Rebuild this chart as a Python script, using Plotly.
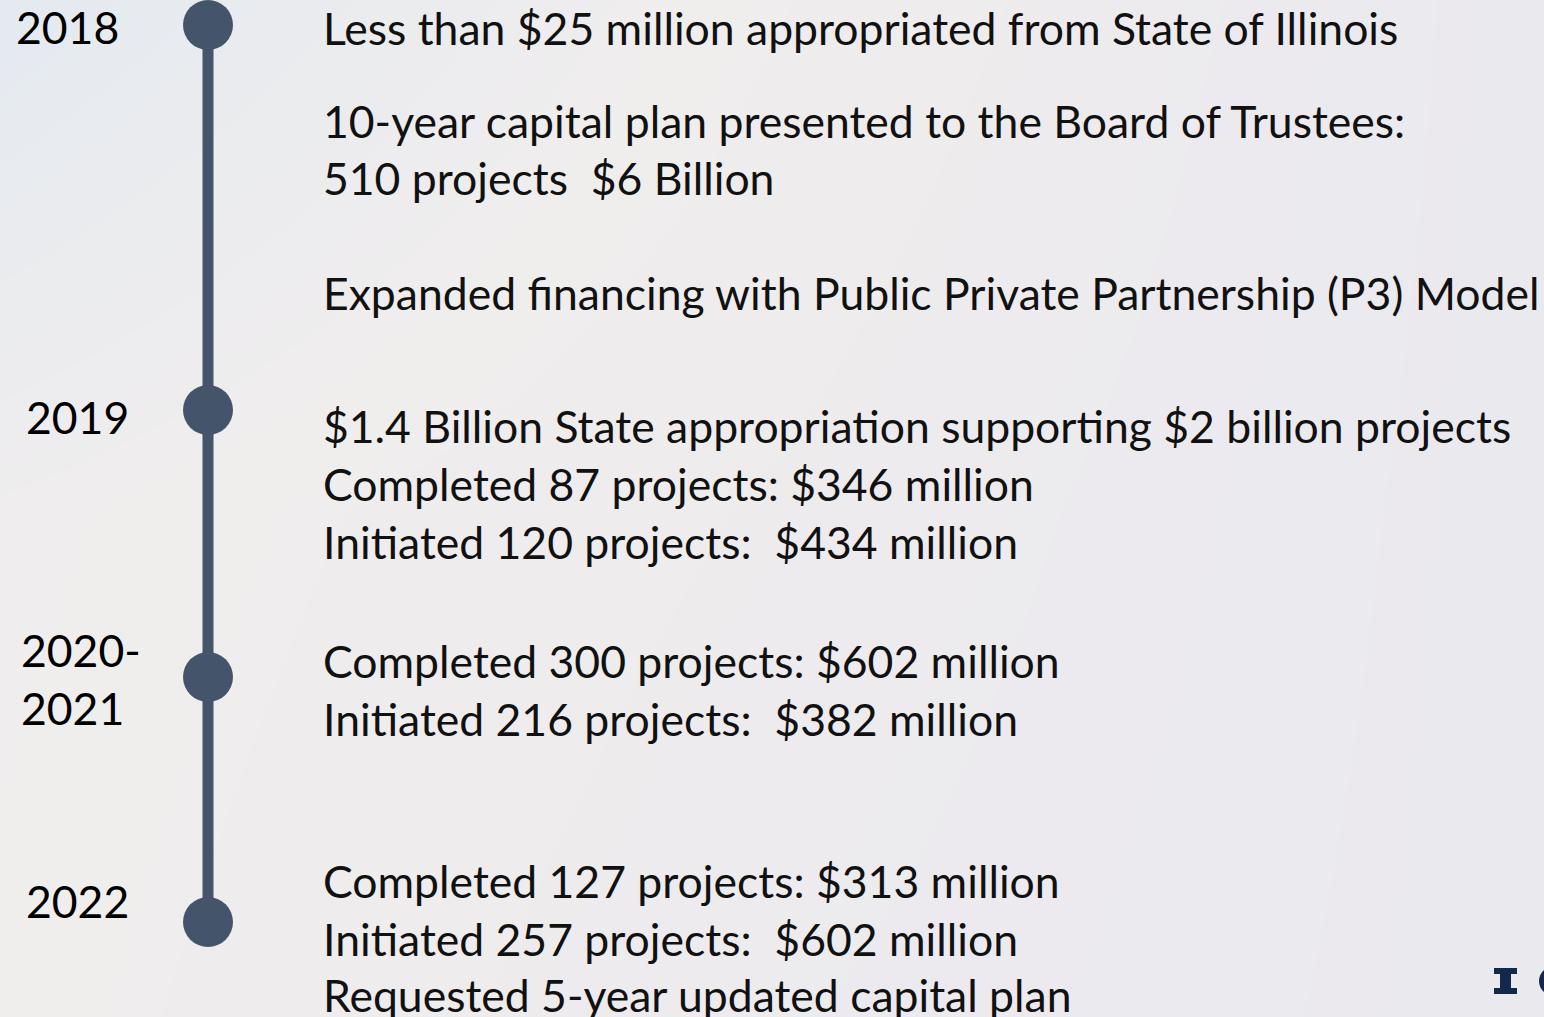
import plotly.graph_objects as go

# ---- data ----
years = ["2018", "2019", "2020-<br>2021", "2022"]
events_2018 = [
    "Less than $25 million appropriated from State of Illinois",
    "10-year capital plan presented to the Board of Trustees:",
    "510 projects  $6 Billion",
    "Expanded financing with Public Private Partnership (P3) Model",
]
events_2019 = [
    "$1.4 Billion State appropriation supporting $2 billion projects",
    "Completed 87 projects: $346 million",
    "Initiated 120 projects:  $434 million",
]
events_2020 = [
    "Completed 300 projects: $602 million",
    "Initiated 216 projects:  $382 million",
]
events_2022 = [
    "Completed 127 projects: $313 million",
    "Initiated 257 projects:  $602 million",
    "Requested 5-year updated capital plan",
]

# ---- layout constants (pixel space) ----
W, H = 1544, 1017
node_y = [25, 410, 677, 922]
year_pos = [(14, 26), (24, 416), (19, 678), (24, 900)]
line_y = [[27, 120, 177, 292], [425, 483, 541], [660, 718], [880, 938, 994]]
FONT = "Lato"
FS = 44.5
NODE = "#44546A"

fig = go.Figure()

# background gradient
fig.add_trace(go.Heatmap(
    z=[[0.0, 0.55, 1.0], [0.45, 0.7, 1.0], [0.5, 0.8, 1.0]],
    x=[0, W / 2, W], y=[0, H / 2, H],
    colorscale=[[0, "#E4EAF0"], [0.5, "#F0EDED"], [1.0, "#EAE9EE"]],
    zsmooth="best", showscale=False, hoverinfo="skip",
))

# timeline spine
fig.add_trace(go.Scatter(
    x=[208, 208], y=[node_y[0], node_y[-1]], mode="lines",
    line=dict(color=NODE, width=11), hoverinfo="skip", showlegend=False,
))
# nodes
fig.add_trace(go.Scatter(
    x=[208] * len(years), y=node_y, mode="markers",
    marker=dict(color=NODE, size=50, line=dict(width=0)),
    hoverinfo="skip", showlegend=False,
))

for label, (xx, yy) in zip(years, year_pos):
    fig.add_annotation(x=xx, y=yy, text=label, showarrow=False,
                       xanchor="left", yanchor="middle", align="left",
                       font=dict(family=FONT, size=FS, color="#000000"))

for group, ys in zip([events_2018, events_2019, events_2020, events_2022], line_y):
    for txt, yy in zip(group, ys):
        fig.add_annotation(x=321, y=yy, text=txt, showarrow=False,
                           xanchor="left", yanchor="middle",
                           font=dict(family=FONT, size=FS, color="#111111"))

# logo fragment: block "I" and the edge of the next glyph
fig.add_shape(type="rect", x0=1494, x1=1517, y0=968, y1=974,
              fillcolor="#13294B", line_width=0)
fig.add_shape(type="rect", x0=1494, x1=1517, y0=988, y1=994,
              fillcolor="#13294B", line_width=0)
fig.add_shape(type="rect", x0=1500, x1=1511, y0=968, y1=994,
              fillcolor="#13294B", line_width=0)
fig.add_shape(type="circle", x0=1542, x1=1572, y0=968, y1=994,
              fillcolor="rgba(0,0,0,0)", line=dict(color="#13294B", width=6))

fig.update_layout(
    width=W, height=H, margin=dict(l=0, r=0, t=0, b=0),
    paper_bgcolor="#ECECEF", plot_bgcolor="#ECECEF",
    xaxis=dict(range=[0, W], visible=False, fixedrange=True),
    yaxis=dict(range=[H, 0], visible=False, fixedrange=True),
    showlegend=False,
)
fig.write_html(
    "out.html",
    config={"displayModeBar": False},
    post_script="document.body.style.margin='0';document.body.style.overflow='hidden';",
)
